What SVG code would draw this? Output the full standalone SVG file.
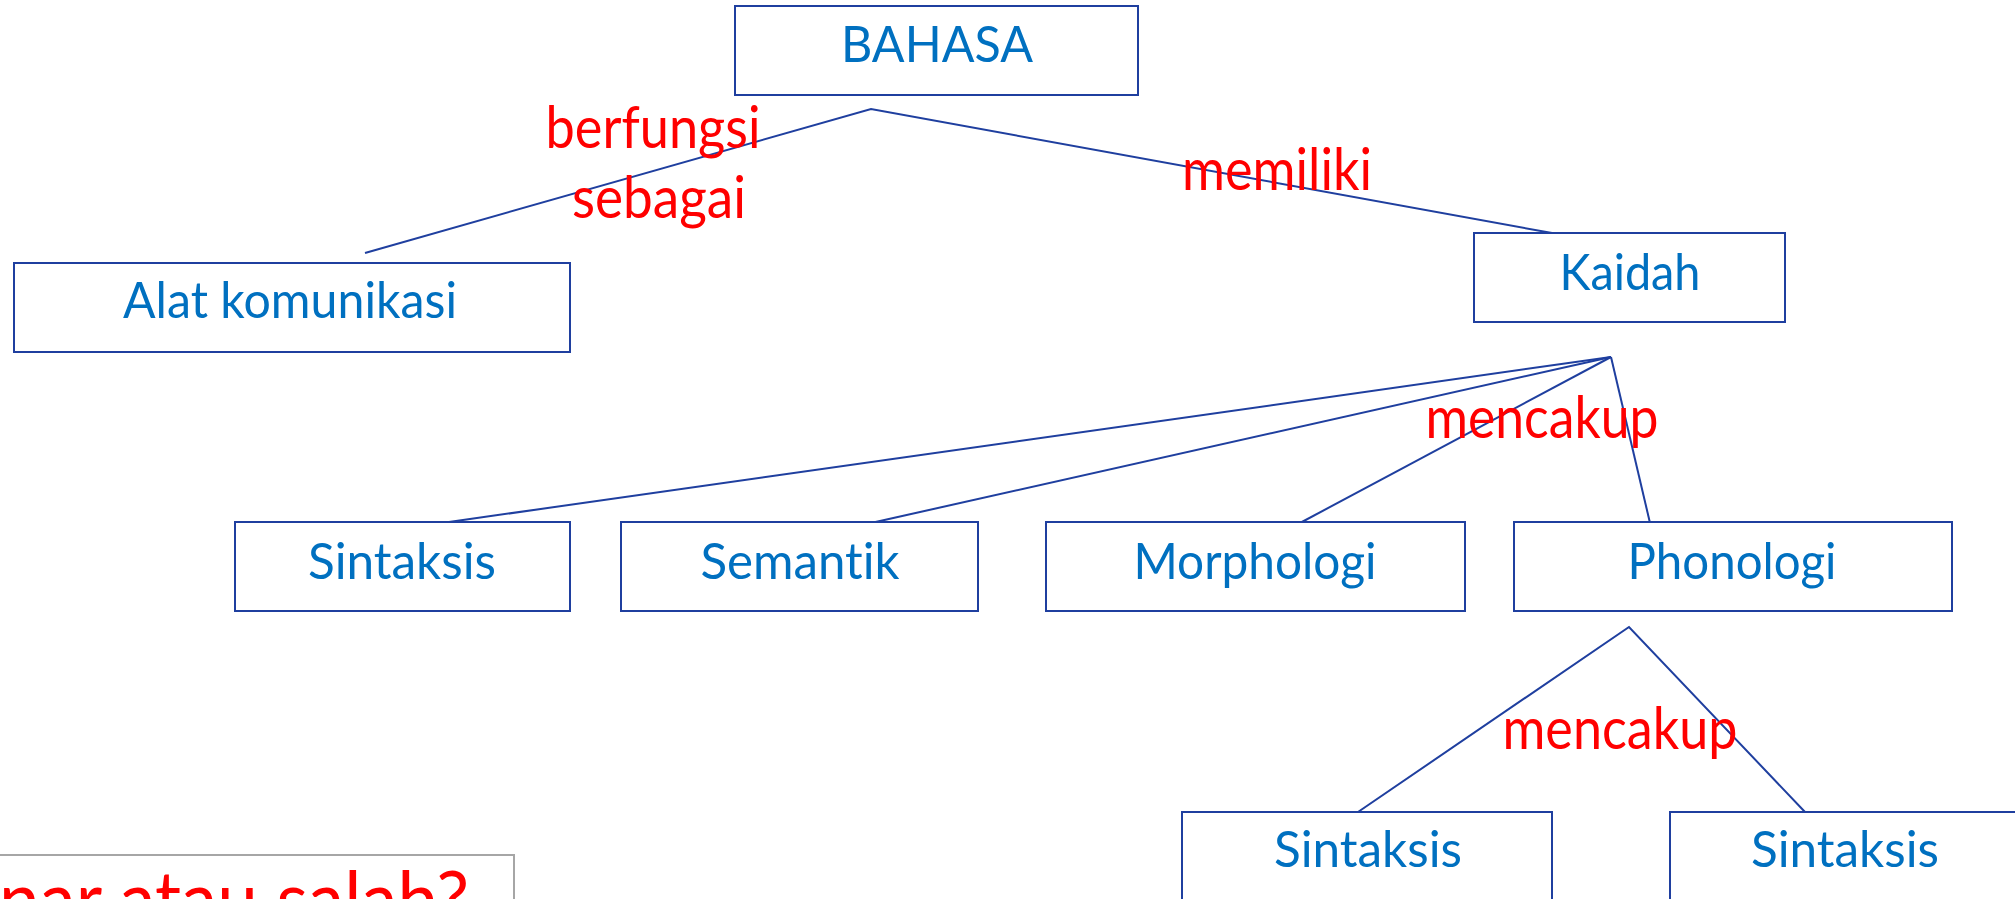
<svg xmlns="http://www.w3.org/2000/svg" width="2015" height="899" viewBox="0 0 2015 899">
  <style>
    text { font-variant-ligatures: none; font-feature-settings: "liga" 0, "clig" 0; }
    .box { fill: #ffffff; stroke: #1F3F9F; stroke-width: 2; }
    .lbl { font-family: Lato, "Open Sans", "Liberation Sans", sans-serif; font-size: 51px; fill: #0070C0; text-anchor: middle; }
    .rel { font-family: Lato, "Open Sans", "Liberation Sans", sans-serif; font-size: 58px; fill: #FF0000; text-anchor: middle; }
    .con { fill: none; stroke: #1F3F9F; stroke-width: 2; }
  </style>
  <rect width="2015" height="899" fill="#ffffff"/>

  <g id="connectors">
    <polyline class="con" points="365,253 871,109 1552,233"/>
    <line class="con" x1="1611" y1="357" x2="442" y2="523"/>
    <line class="con" x1="1611" y1="357" x2="871" y2="523"/>
    <line class="con" x1="1611" y1="357" x2="1300" y2="523"/>
    <line class="con" x1="1611" y1="357" x2="1650" y2="523"/>
    <polyline class="con" points="1358,812 1629,627 1805,812"/>
  </g>

  <g id="labels">
    <text class="rel" x="653" y="148" textLength="215" lengthAdjust="spacingAndGlyphs">berfungsi</text>
    <text class="rel" x="659" y="218" textLength="174" lengthAdjust="spacingAndGlyphs">sebagai</text>
    <text class="rel" x="1277" y="190" textLength="190" lengthAdjust="spacingAndGlyphs">memiliki</text>
    <text class="rel" x="1542" y="438" textLength="233" lengthAdjust="spacingAndGlyphs">mencakup</text>
    <text class="rel" x="1620" y="749" textLength="235" lengthAdjust="spacingAndGlyphs">mencakup</text>
  </g>

  <g id="node-bahasa">
    <rect class="box" x="735" y="6" width="403" height="89"/>
    <text class="lbl" x="937" y="62" textLength="192" lengthAdjust="spacingAndGlyphs">BAHASA</text>
  </g>
  <g id="node-alat">
    <rect class="box" x="14" y="263" width="556" height="89"/>
    <text class="lbl" x="290" y="318" textLength="334" lengthAdjust="spacingAndGlyphs">Alat komunikasi</text>
  </g>
  <g id="node-kaidah">
    <rect class="box" x="1474" y="233" width="311" height="89"/>
    <text class="lbl" x="1630" y="290" textLength="141" lengthAdjust="spacingAndGlyphs">Kaidah</text>
  </g>
  <g id="node-sintaksis">
    <rect class="box" x="235" y="522" width="335" height="89"/>
    <text class="lbl" x="402" y="579" textLength="188" lengthAdjust="spacingAndGlyphs">Sintaksis</text>
  </g>
  <g id="node-semantik">
    <rect class="box" x="621" y="522" width="357" height="89"/>
    <text class="lbl" x="800" y="579" textLength="199" lengthAdjust="spacingAndGlyphs">Semantik</text>
  </g>
  <g id="node-morphologi">
    <rect class="box" x="1046" y="522" width="419" height="89"/>
    <text class="lbl" x="1255" y="579" textLength="243" lengthAdjust="spacingAndGlyphs">Morphologi</text>
  </g>
  <g id="node-phonologi">
    <rect class="box" x="1514" y="522" width="438" height="89"/>
    <text class="lbl" x="1732" y="579" textLength="209" lengthAdjust="spacingAndGlyphs">Phonologi</text>
  </g>
  <g id="node-sintaksis-2">
    <rect class="box" x="1182" y="812" width="370" height="89"/>
    <text class="lbl" x="1368" y="867" textLength="188" lengthAdjust="spacingAndGlyphs">Sintaksis</text>
  </g>
  <g id="node-sintaksis-3">
    <rect class="box" x="1670" y="812" width="370" height="89"/>
    <text class="lbl" x="1845" y="867" textLength="188" lengthAdjust="spacingAndGlyphs">Sintaksis</text>
  </g>

  <g id="question">
    <rect x="-60" y="855" width="574" height="110" fill="#ffffff" stroke="#A6A6A6" stroke-width="2"/>
    <text x="469" y="927" font-family="Lato, 'Open Sans', 'Liberation Sans', sans-serif" font-size="78" fill="#FF0000" text-anchor="end" textLength="555" lengthAdjust="spacingAndGlyphs">Benar atau salah?</text>
  </g>
</svg>
